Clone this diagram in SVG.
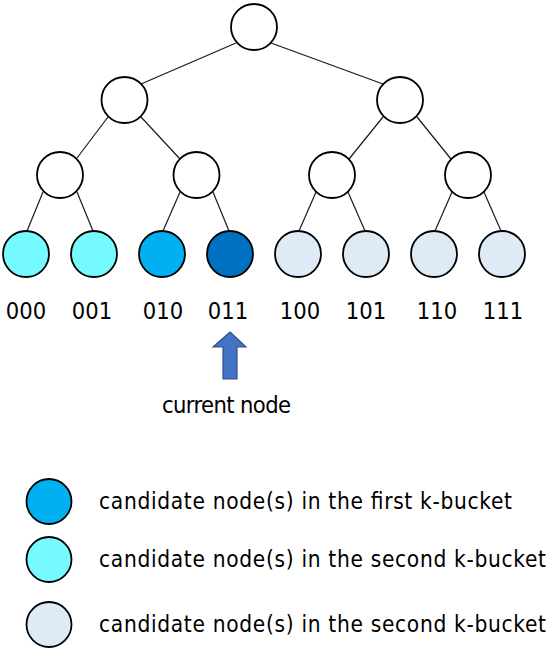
<svg xmlns="http://www.w3.org/2000/svg" width="550" height="650" viewBox="0 0 550 650">
<style>
.n{stroke:#000;stroke-width:1.8}
.w{fill:#fff}
.c1{fill:#00B0F0}
.c2{fill:#76F9FF}
.c3{fill:#0070C0}
.c4{fill:#DEEBF7}
.e{stroke:#1a1a1a;stroke-width:1.2;fill:none}
text{font-family:"DejaVu Sans Condensed","DejaVu Sans",sans-serif;fill:#000}
.lb{font-size:23.5px;text-anchor:middle}
.lg{font-size:22.5px}
</style>
<rect width="550" height="650" fill="#fff"/>
<g id="connectors">
<line class="e" x1="236" y1="43" x2="141" y2="84"/>
<line class="e" x1="271" y1="43" x2="383" y2="84"/>
<line class="e" x1="108" y1="117" x2="77" y2="158"/>
<line class="e" x1="141" y1="117" x2="180" y2="159"/>
<line class="e" x1="383" y1="117" x2="349" y2="159"/>
<line class="e" x1="417" y1="117" x2="451" y2="159"/>
<line class="e" x1="43" y1="192" x2="27" y2="231"/>
<line class="e" x1="77" y1="192" x2="93" y2="231"/>
<line class="e" x1="180" y1="192" x2="163" y2="231"/>
<line class="e" x1="213" y1="192" x2="229" y2="231"/>
<line class="e" x1="316" y1="192" x2="299" y2="231"/>
<line class="e" x1="348" y1="192" x2="365" y2="231"/>
<line class="e" x1="452" y1="192" x2="435" y2="231"/>
<line class="e" x1="484" y1="192" x2="501" y2="231"/>
</g>
<g id="root"><circle class="n w" cx="254" cy="27" r="23"/></g>
<g id="n0"><circle class="n w" cx="124.5" cy="100" r="23"/></g>
<g id="n1"><circle class="n w" cx="400" cy="100" r="23"/></g>
<g id="n00"><circle class="n w" cx="60" cy="175" r="23"/></g>
<g id="n01"><circle class="n w" cx="196.5" cy="175" r="23"/></g>
<g id="n10"><circle class="n w" cx="332" cy="175" r="23"/></g>
<g id="n11"><circle class="n w" cx="468" cy="175" r="23"/></g>
<g id="leaf000"><circle class="n c2" cx="26" cy="254" r="23"/><text class="lb" x="26" y="319">000</text></g>
<g id="leaf001"><circle class="n c2" cx="94" cy="254" r="23"/><text class="lb" x="92" y="319">001</text></g>
<g id="leaf010"><circle class="n c1" cx="162" cy="254" r="23"/><text class="lb" x="163" y="319">010</text></g>
<g id="leaf011"><circle class="n c3" cx="230" cy="254" r="23"/><text class="lb" x="228" y="319">011</text></g>
<g id="leaf100"><circle class="n c4" cx="298" cy="254" r="23"/><text class="lb" x="300" y="319">100</text></g>
<g id="leaf101"><circle class="n c4" cx="366" cy="254" r="23"/><text class="lb" x="366" y="319">101</text></g>
<g id="leaf110"><circle class="n c4" cx="434" cy="254" r="23"/><text class="lb" x="437" y="319">110</text></g>
<g id="leaf111"><circle class="n c4" cx="502" cy="254" r="23"/><text class="lb" x="503" y="319">111</text></g>
<g id="current">
<polygon points="230,332 246,347 237,347 237,379 223,379 223,347 213,347" fill="#4472C4" stroke="#2F528F" stroke-width="1.2"/>
<text x="226.5" y="413" font-size="23.5" text-anchor="middle" textLength="129">current node</text>
</g>
<g id="legend">
<circle class="n c1" cx="49" cy="501.5" r="22.5"/>
<text class="lg" x="99" y="509" textLength="413">candidate node(s) in the first k-bucket</text>
<circle class="n c2" cx="49" cy="559.5" r="22.5"/>
<text class="lg" x="99" y="567" textLength="447">candidate node(s) in the second k-bucket</text>
<circle class="n c4" cx="49" cy="624.5" r="22.5"/>
<text class="lg" x="99" y="632" textLength="447">candidate node(s) in the second k-bucket</text>
</g>
</svg>
